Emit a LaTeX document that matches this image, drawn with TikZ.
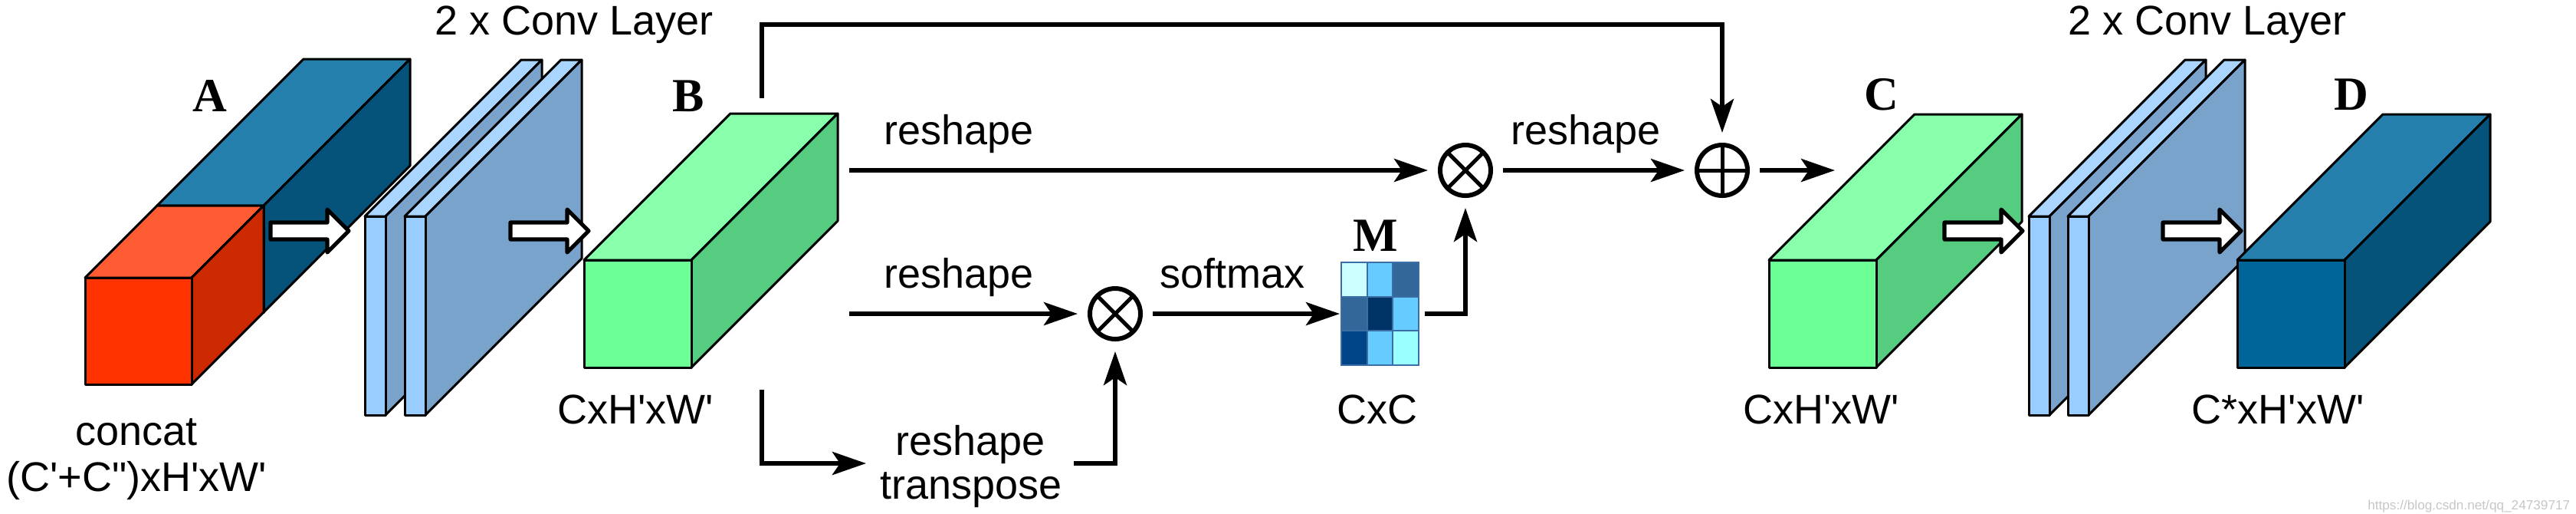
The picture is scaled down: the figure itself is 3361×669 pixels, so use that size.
\documentclass[tikz,border=0pt]{standalone}
\usepackage{fontspec}
\setmainfont{Liberation Sans}[Ligatures=TeXOff]
\newfontfamily\tnr{Liberation Serif}
\usetikzlibrary{arrows.meta}
\definecolor{redF}{HTML}{FF3300}
\definecolor{redT}{HTML}{FF5C33}
\definecolor{redS}{HTML}{CC2900}
\definecolor{blueF}{HTML}{006699}
\definecolor{blueT}{HTML}{2680AD}
\definecolor{blueS}{HTML}{05527A}
\definecolor{greenF}{HTML}{6BFF96}
\definecolor{greenT}{HTML}{88FFAA}
\definecolor{greenS}{HTML}{55CC7F}
\definecolor{slabF}{HTML}{99CCFF}
\definecolor{slabT}{HTML}{AAD5FF}
\definecolor{slabS}{HTML}{7AA3CC}
\definecolor{mborder}{HTML}{3A6EA5}
\definecolor{mA}{HTML}{CCFFFF}
\definecolor{mB}{HTML}{66CCFF}
\definecolor{mC}{HTML}{336699}
\definecolor{mD}{HTML}{003366}
\definecolor{mE}{HTML}{004488}
\definecolor{mF}{HTML}{99FFFF}
\newcommand{\drawcuboid}[8]{%
  \filldraw[edge,fill=#7] (#1,#2) -- ({#1+#5},{#2-#5}) -- ({#1+#3+#5},{#2-#5}) -- ({#1+#3},#2) -- cycle;
  \filldraw[edge,fill=#8] ({#1+#3},#2) -- ({#1+#3+#5},{#2-#5}) -- ({#1+#3+#5},{#2+#4-#5}) -- ({#1+#3},{#2+#4}) -- cycle;
  \filldraw[edge,fill=#6] (#1,#2) rectangle ({#1+#3},{#2+#4});
}
\newcommand{\blockarrow}[2]{%
  \filldraw[barrow] (#1,{#2-11}) -- ({#1+74},{#2-11}) -- ({#1+74},{#2-28}) -- ({#1+102},#2) -- ({#1+74},{#2+28}) -- ({#1+74},{#2+11}) -- (#1,{#2+11}) -- cycle;
}
\tikzset{
  edge/.style={draw=black, line width=0.75pt, line join=round},
  barrow/.style={draw=black, fill=white, line width=1.3pt, line join=round},
  conn/.style={line width=1.5pt, -{Stealth[length=11pt,width=7.5pt,inset=2.5pt]}},
  opnode/.style={circle, draw, line width=1.5pt, minimum size=16.5pt, inner sep=0pt, outer sep=4pt},
  otimes/.style={opnode, path picture={\draw[line width=1.25pt] (path picture bounding box.south west) -- (path picture bounding box.north east) (path picture bounding box.north west) -- (path picture bounding box.south east);}},
  oplus/.style={opnode, path picture={\draw[line width=1.25pt] (path picture bounding box.north) -- (path picture bounding box.south) (path picture bounding box.west) -- (path picture bounding box.east);}},
  lbl/.style={font=\fontsize{13.5}{15}\selectfont, anchor=base, inner sep=0pt},
  bigl/.style={font=\tnr\bfseries\fontsize{15.5}{17}\selectfont, anchor=base, inner sep=0pt},
  cell/.style={draw=mborder, line width=0.6pt}
}
\begin{document}
\begin{tikzpicture}[x=0.25pt,y=-0.25pt]
\useasboundingbox (0,0) rectangle (3361,669);
\fill[white] (0,0) rectangle (3361,669);

% Block A
\drawcuboid{205}{268}{139}{139}{191}{blueF}{blueT}{blueS}
\drawcuboid{111}{362}{139}{139}{94}{redF}{redT}{redS}
\blockarrow{353}{301}
\node[bigl] (lA) at (274,145) {A};
\node[lbl] (tA1) at (178,580) {concat};
\node[lbl] (tA2) at (178,640) {(C'+C")xH'xW'};

% left conv layers
\drawcuboid{476}{282}{27}{259}{204}{slabF}{slabT}{slabS}
\drawcuboid{528}{282}{27}{259}{204}{slabF}{slabT}{slabS}
\blockarrow{666}{301}
\node[lbl] (conv1) at (749,45) {2 x Conv Layer};

% Block B
\drawcuboid{762}{339}{140}{140}{191}{greenF}{greenT}{greenS}
\node[bigl] (lB) at (898,145) {B};
\node[lbl] (tB) at (829,552) {CxH'xW'};

% operators
\node[otimes] (mulB) at (1455,409) {};
\node[otimes] (mulA) at (1912,222) {};
\node[oplus] (addN) at (2247,222) {};

% matrix M
\node[minimum width=25.25pt, minimum height=33.5pt, inner sep=0pt, outer sep=0.5pt] (Mx) at (1800.5,409) {};
\filldraw[cell,fill=mA] (1750,342) rectangle (1784,387);
\filldraw[cell,fill=mB] (1784,342) rectangle (1817,387);
\filldraw[cell,fill=mC] (1817,342) rectangle (1851,387);
\filldraw[cell,fill=mC] (1750,387) rectangle (1784,431);
\filldraw[cell,fill=mD] (1784,387) rectangle (1817,431);
\filldraw[cell,fill=mB] (1817,387) rectangle (1851,431);
\filldraw[cell,fill=mE] (1750,431) rectangle (1784,476);
\filldraw[cell,fill=mB] (1784,431) rectangle (1817,476);
\filldraw[cell,fill=mF] (1817,431) rectangle (1851,476);
\node[bigl] (lM) at (1795,327) {M};
\node[lbl] (tM) at (1797,552) {CxC};

% connector coordinates
\coordinate (skip0) at (994,128);
\coordinate (skipT) at (2247,32);
\coordinate (bR1) at (1108,222);
\coordinate (bR2) at (1108,409);
\coordinate (bot0) at (994,508);
\coordinate (botE) at (1130,604);
\coordinate (botS) at (1401,604);
\coordinate (cIn) at (2394,222);

% connectors
\draw[conn] (skip0) |- (skipT) -- (addN);
\draw[conn] (bR1) -- (mulA);
\draw[conn] (bR2) -- (mulB);
\draw[conn] (bot0) |- (botE);
\draw[conn] (botS) -| (mulB);
\draw[conn] (mulB) -- (Mx.west |- mulB);
\draw[conn] ([xshift=1.5pt]Mx.east) -| (mulA);
\draw[conn] (mulA) -- (addN);
\draw[conn] (addN) -- (cIn);

% connector labels
\node[lbl] (r1) at (1251,188) {reshape};
\node[lbl] (r2) at (1251,375) {reshape};
\node[lbl] (r3) at (1266,593) {reshape};
\node[lbl] (r4) at (1267,650) {transpose};
\node[lbl] (sm) at (1608,375) {softmax};
\node[lbl] (r5) at (2069,188) {reshape};

% Block C
\drawcuboid{2308}{339}{140}{140}{190}{greenF}{greenT}{greenS}
\blockarrow{2537}{301}
\node[bigl] (lC) at (2455,143) {C};
\node[lbl] (tC) at (2376,552) {CxH'xW'};

% right conv layers
\drawcuboid{2647}{282}{27}{259}{204}{slabF}{slabT}{slabS}
\drawcuboid{2698}{282}{27}{259}{204}{slabF}{slabT}{slabS}
\blockarrow{2822}{301}
\node[lbl] (conv2) at (2880,45) {2 x Conv Layer};

% Block D
\drawcuboid{2919}{339}{140}{140}{190}{blueF}{blueT}{blueS}
\node[bigl] (lD) at (3068,143) {D};
\node[lbl] (tD) at (2972,552) {C*xH'xW'};

% watermark
\node[font=\fontsize{4.3}{5}\selectfont, text=black!22, anchor=base east, inner sep=0pt] (wm) at (3354,664) {https://blog.csdn.net/qq\_24739717};
\end{tikzpicture}
\end{document}
